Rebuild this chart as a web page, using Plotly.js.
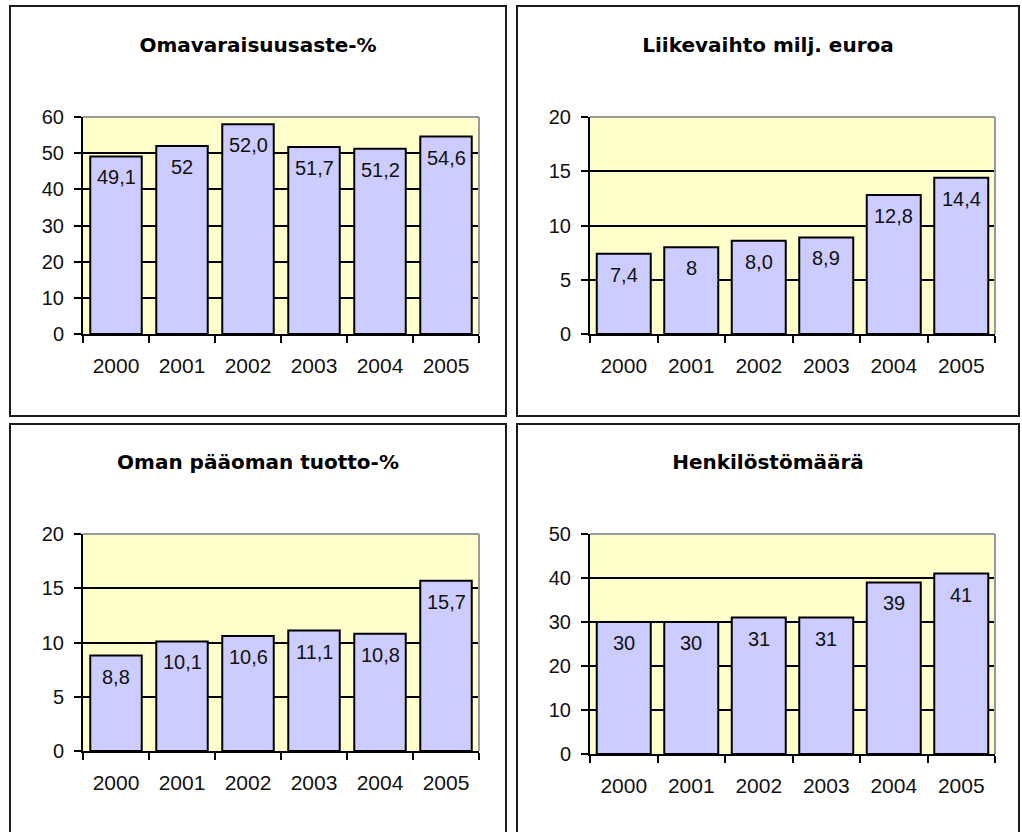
<!DOCTYPE html>
<html>
<head>
<meta charset="utf-8">
<script src="https://cdn.plot.ly/plotly-3.0.1.min.js"></script>
<style>
  html, body { margin: 0; padding: 0; background: #ffffff; width: 1022px; height: 832px; overflow: hidden; }
  .panel { position: absolute; box-sizing: border-box; border: 2px solid #1a1a1a; background: #ffffff; }
  .panel > div { width: 100%; height: 100%; }
</style>
</head>
<body>
<div class="panel" id="p1" style="left:9px; top:5px; width:498px; height:412px;"><div id="c1"></div></div>
<div class="panel" id="p2" style="left:516px; top:5px; width:504px; height:412px;"><div id="c2"></div></div>
<div class="panel" id="p3" style="left:9px; top:423px; width:498px; height:420px;"><div id="c3"></div></div>
<div class="panel" id="p4" style="left:516px; top:423px; width:504px; height:420px;"><div id="c4"></div></div>
<script>
// ---- data ----
const years = ['2000', '2001', '2002', '2003', '2004', '2005'];

const equityTitle = 'Omavaraisuusaste-%';
const equityValues = [49.1, 52, 58, 51.7, 51.2, 54.6];
const equityLabels = ['49,1', '52', '52,0', '51,7', '51,2', '54,6'];

const revenueTitle = 'Liikevaihto milj. euroa';
const revenueValues = [7.4, 8, 8.6, 8.9, 12.8, 14.4];
const revenueLabels = ['7,4', '8', '8,0', '8,9', '12,8', '14,4'];

const roeTitle = 'Oman pääoman tuotto-%';
const roeValues = [8.8, 10.1, 10.6, 11.1, 10.8, 15.7];
const roeLabels = ['8,8', '10,1', '10,6', '11,1', '10,8', '15,7'];

const staffTitle = 'Henkilöstömäärä';
const staffValues = [30, 30, 31, 31, 39, 41];
const staffLabels = ['30', '30', '31', '31', '39', '41'];

// ---- styling ----
const BAR_COLOR = '#CCCCFF';
const PLOT_BG = '#FFFFCC';
const TICK_FONT = { family: 'Liberation Sans, Arial, sans-serif', size: 20, color: '#111111' };
const LABEL_FONT = { family: 'Liberation Sans, Arial, sans-serif', size: 20, color: '#111111' };
const TITLE_FONT = { family: 'DejaVu Sans, sans-serif', size: 20, color: '#000000', weight: 'bold' };

function drawPanel(divId, title, values, labels, yMax, yStep, opts) {
  const trace = {
    type: 'bar',
    x: years,
    y: values,
    marker: { color: BAR_COLOR, line: { color: '#000000', width: 2 } },
    hoverinfo: 'skip'
  };
  // data labels: placed at each category (by index) just under the bar top
  const annotations = years.map((yr, i) => ({
    x: i, y: values[i], xref: 'x', yref: 'y',
    text: labels[i], showarrow: false,
    xanchor: 'center', yanchor: 'top', yshift: -8,
    font: LABEL_FONT
  }));
  const layout = {
    width: opts.w, height: opts.h,
    margin: opts.m,
    paper_bgcolor: '#ffffff',
    plot_bgcolor: PLOT_BG,
    showlegend: false,
    bargap: opts.gap,
    title: {
      text: title, font: TITLE_FONT,
      x: 0.5, xref: 'container', xanchor: 'center',
      y: opts.ty, yref: 'container', yanchor: 'top'
    },
    xaxis: {
      type: 'category',
      categoryorder: 'array', categoryarray: years,
      range: [-0.5, years.length - 0.5], autorange: false,
      showgrid: false, zeroline: false,
      showline: true, linecolor: '#000000', linewidth: 2,
      ticks: 'outside', tickson: 'boundaries', ticklen: 7, tickwidth: 2, tickcolor: '#000000',
      tickangle: 0,
      tickfont: { family: TICK_FONT.family, size: 21, color: TICK_FONT.color },
      ticklabelstandoff: 12,
      fixedrange: true
    },
    yaxis: {
      range: [0, yMax], autorange: false, dtick: yStep, tick0: 0,
      showgrid: true, gridcolor: '#000000', gridwidth: 2,
      zeroline: false,
      showline: true, linecolor: '#000000', linewidth: 2,
      ticks: 'outside', ticklen: 7, tickwidth: 2, tickcolor: '#000000',
      tickfont: TICK_FONT,
      ticklabelstandoff: 6,
      fixedrange: true
    },
    shapes: [
      { type: 'line', xref: 'x domain', yref: 'y domain', x0: 0, x1: 1, y0: 1, y1: 1,
        line: { color: '#9a9a9a', width: 2 }, layer: 'above' },
      { type: 'line', xref: 'x domain', yref: 'y domain', x0: 1, x1: 1, y0: 0, y1: 1,
        line: { color: '#9a9a9a', width: 2 }, layer: 'above' }
    ],
    annotations: annotations
  };
  Plotly.newPlot(divId, [trace], layout, { displayModeBar: false, staticPlot: true });
}

drawPanel('c1', equityTitle, equityValues, equityLabels, 60, 10,
  { w: 494, h: 408, m: { l: 72, r: 26, t: 110, b: 81, pad: 0 }, gap: 0.22, ty: 0.923 });
drawPanel('c2', revenueTitle, revenueValues, revenueLabels, 20, 5,
  { w: 500, h: 408, m: { l: 72, r: 23, t: 110, b: 81, pad: 0 }, gap: 0.2, ty: 0.923 });
drawPanel('c3', roeTitle, roeValues, roeLabels, 20, 5,
  { w: 494, h: 416, m: { l: 72, r: 26, t: 109, b: 90, pad: 0 }, gap: 0.22, ty: 0.929 });
drawPanel('c4', staffTitle, staffValues, staffLabels, 50, 10,
  { w: 500, h: 416, m: { l: 72, r: 23, t: 109, b: 87, pad: 0 }, gap: 0.2, ty: 0.927 });
</script>
</body>
</html>
